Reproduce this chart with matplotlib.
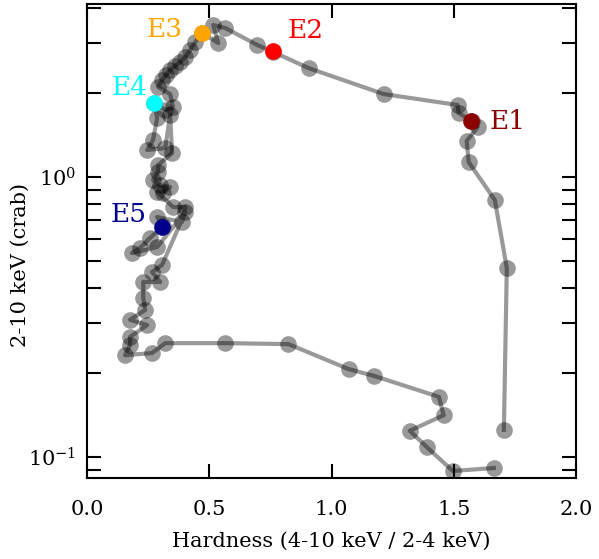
import matplotlib
matplotlib.use("Agg")
import matplotlib.pyplot as plt

plt.rcParams['font.family'] = ['DejaVu Serif']
plt.rcParams['mathtext.fontset'] = 'dejavuserif'

# Hardness-intensity track (time ordered)
hardness = [1.705, 1.717, 1.668, 1.561, 1.553, 1.598, 1.574, 1.520, 1.516, 1.213,
            0.906, 0.762, 0.697, 0.566, 0.516, 0.537, 0.471,
            0.443, 0.422, 0.402, 0.381, 0.361, 0.340, 0.324, 0.307, 0.291, 0.340,
            0.352, 0.320, 0.275, 0.287, 0.270, 0.246, 0.320, 0.340, 0.348, 0.291,
            0.291, 0.270, 0.299, 0.340, 0.311, 0.287, 0.352, 0.402, 0.389, 0.287,
            0.311, 0.258, 0.217, 0.184, 0.287, 0.402, 0.307, 0.266, 0.299, 0.230,
            0.230, 0.238, 0.176, 0.246, 0.176, 0.176, 0.156, 0.266, 0.320, 0.566,
            0.824, 1.070, 1.172, 1.439, 1.459, 1.320, 1.389, 1.496, 1.664]
flux = [0.1249, 0.473, 0.828, 1.131, 1.345, 1.509, 1.585, 1.693, 1.808, 1.979,
        2.45, 2.796, 2.961, 3.405, 3.491, 3.010, 3.268,
        3.035, 2.842, 2.683, 2.575, 2.492, 2.411, 2.313, 2.221, 2.097, 1.979,
        1.778, 1.735, 1.838, 1.624, 1.356, 1.249, 1.269, 1.665, 1.218, 1.104,
        1.042, 0.976, 0.936, 0.921, 0.877, 0.884, 0.781, 0.781, 0.691, 0.720,
        0.668, 0.606, 0.558, 0.535, 0.562, 0.750, 0.485, 0.458, 0.422, 0.422,
        0.370, 0.335, 0.309, 0.296, 0.268, 0.251, 0.231, 0.235, 0.255, 0.255,
        0.253, 0.206, 0.195, 0.164, 0.141, 0.124, 0.1086, 0.0891, 0.0913]

# Highlighted epochs
epoch_labels = ['E1', 'E2', 'E3', 'E4', 'E5']
epoch_hardness = [1.570, 0.762, 0.471, 0.275, 0.307]
epoch_flux = [1.585, 2.818, 3.268, 1.838, 0.663]
epoch_colors = ['darkred', 'red', 'orange', 'cyan', 'darkblue']

xticks = [0.0, 0.5, 1.0, 1.5, 2.0]

fig = plt.figure(figsize=(5.99, 5.59), dpi=100)
ax = fig.add_axes([87/599, 1 - 478/559, (576-87)/599, (478-4)/559])

ax.plot(hardness, flux, 'o-', color='k', alpha=0.4, ms=12, lw=3, mew=0)

offsets = [(19, 0, 'left', 'center'), (14, 13, 'left', 'baseline'),
           (-19, -4, 'right', 'baseline'), (-7, 8, 'right', 'baseline'),
           (-15, 5, 'right', 'baseline')]
for lab, hx, fy, c, (dx, dy, ha, va) in zip(epoch_labels, epoch_hardness, epoch_flux,
                                            epoch_colors, offsets):
    ax.plot([hx], [fy], 'o', color=c, ms=12, mew=0, zorder=5)
    ax.annotate(lab, (hx, fy), xytext=(dx, dy), textcoords='offset pixels',
                ha=ha, va=va, color=c, fontsize=19)

ax.set_yscale('log')
ax.set_xlim(0, 2.0)
ax.set_ylim(0.0841, 4.15)
ax.set_xticks(xticks)
ax.set_xticklabels([f'{v:.1f}' for v in xticks])

ax.tick_params(which='both', direction='in', top=True, right=True, width=1.5)
ax.tick_params(which='major', length=10, labelsize=15)
ax.tick_params(which='minor', length=10)
ax.tick_params(axis='x', pad=16)
ax.tick_params(axis='y', pad=8)
for s in ax.spines.values():
    s.set_linewidth(1.5)

ax.set_xlabel('Hardness (4-10 keV / 2-4 keV)', fontsize=15, labelpad=9)
ax.set_ylabel('2-10 keV (crab)', fontsize=15)
ax.yaxis.set_label_coords(-0.118, 0.45)

fig.savefig('out.png', dpi=100)
